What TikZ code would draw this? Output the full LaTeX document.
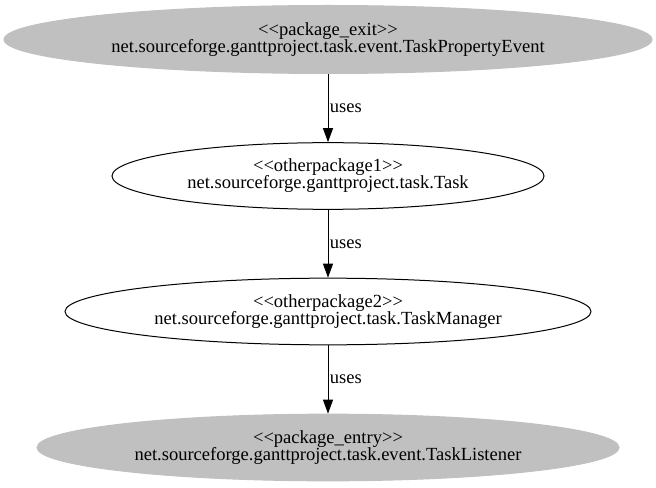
\documentclass[tikz,border=0pt]{standalone}
\usepackage{fontspec}
\setmainfont{Liberation Serif}
\usetikzlibrary{arrows.meta,shapes.geometric}
\newcommand{\ltlt}{\textless\kern0pt\textless}
\newcommand{\gtgt}{\textgreater\kern0pt\textgreater}
\tikzset{
  pkg/.style={ellipse, draw=black, line width=0.75pt, inner sep=0pt, align=center, font=\fontsize{13.9}{12.8}\selectfont},
  grayfill/.style={fill={rgb,255:red,192;green,192;blue,192}, draw={rgb,255:red,192;green,192;blue,192}},
  dep/.style={-{Triangle[length=10.5pt,width=7.5pt]}, line width=0.75pt},
  lbl/.style={right, inner sep=1pt, font=\fontsize{13.9}{13.5}\selectfont}
}
\begin{document}
\begin{tikzpicture}[x=0.75pt,y=0.75pt]
\useasboundingbox (0,0) rectangle (656,-488);
\node[pkg, grayfill, minimum width=486pt, minimum height=51pt] (exit) at (328,-39.5)
  {\ltlt package\_exit\gtgt\\net.sourceforge.ganttproject.task.event.TaskPropertyEvent};
\node[pkg, minimum width=324pt, minimum height=50pt] (task) at (328,-176)
  {\ltlt otherpackage1\gtgt\\net.sourceforge.ganttproject.task.Task};
\node[pkg, minimum width=394.5pt, minimum height=50pt] (mgr) at (328,-311.5)
  {\ltlt otherpackage2\gtgt\\net.sourceforge.ganttproject.task.TaskManager};
\node[pkg, grayfill, minimum width=436.5pt, minimum height=50pt] (entry) at (328,-447.5)
  {\ltlt package\_entry\gtgt\\net.sourceforge.ganttproject.task.event.TaskListener};
\draw[dep] (exit.south) -- node[lbl] {uses} (task.north);
\draw[dep] (task.south) -- node[lbl] {uses} (mgr.north);
\draw[dep] (mgr.south) -- node[lbl] {uses} (entry.north);
\end{tikzpicture}
\end{document}
